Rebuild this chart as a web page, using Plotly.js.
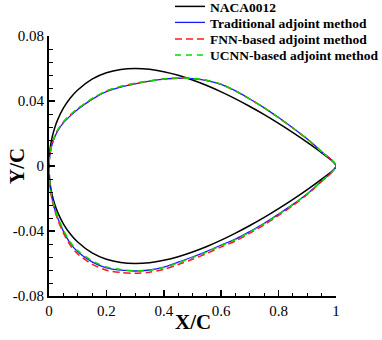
<!DOCTYPE html>
<html>
<head>
<meta charset="utf-8">
<script src="https://cdn.plot.ly/plotly-3.0.1.min.js"></script>
<style>html,body{margin:0;padding:0;background:#fff;}#chart{width:382px;height:340px;}</style>
</head>
<body>
<div id="chart"></div>
<script>
// Chordwise stations X/C
const xc = [0, 0.0025, 0.005, 0.01, 0.02, 0.03, 0.05, 0.075, 0.1, 0.15, 0.2, 0.25, 0.3, 0.35, 0.4, 0.45, 0.5, 0.55, 0.6, 0.65, 0.7, 0.75, 0.8, 0.85, 0.9, 0.95, 1];

const nacaUpper = [0, 0.0087, 0.0122, 0.0170, 0.0236, 0.0284, 0.0356, 0.0420, 0.0468, 0.0535, 0.0574, 0.0594, 0.0600, 0.0595, 0.0580, 0.0558, 0.0529, 0.0495, 0.0456, 0.0413, 0.0366, 0.0316, 0.0262, 0.0205, 0.0145, 0.0081, 0];
const nacaLower = [0, -0.0087, -0.0122, -0.0170, -0.0236, -0.0284, -0.0356, -0.0420, -0.0468, -0.0535, -0.0574, -0.0594, -0.0600, -0.0595, -0.0580, -0.0558, -0.0529, -0.0495, -0.0456, -0.0413, -0.0366, -0.0316, -0.0262, -0.0205, -0.0145, -0.0081, 0];

const tradUpper = [0, 0.0060, 0.0087, 0.0128, 0.0178, 0.0215, 0.0265, 0.0310, 0.0348, 0.0410, 0.0458, 0.0486, 0.0506, 0.0522, 0.0534, 0.0540, 0.0538, 0.0526, 0.0502, 0.0462, 0.0412, 0.0358, 0.0298, 0.0234, 0.0166, 0.0088, 0];
const tradLower = [0, -0.0105, -0.0145, -0.0195, -0.0266, -0.0319, -0.0401, -0.0478, -0.0528, -0.0590, -0.0627, -0.0641, -0.0646, -0.0640, -0.0622, -0.0592, -0.0560, -0.0525, -0.0486, -0.0450, -0.0403, -0.0352, -0.0296, -0.0236, -0.0170, -0.0092, 0];

const fnnUpper = [0, 0.0062, 0.0090, 0.0132, 0.0183, 0.0220, 0.0270, 0.0315, 0.0352, 0.0413, 0.0461, 0.0489, 0.0508, 0.0523, 0.0535, 0.0540, 0.0538, 0.0526, 0.0502, 0.0461, 0.0411, 0.0357, 0.0297, 0.0233, 0.0165, 0.0087, 0];
const fnnLower = [0, -0.0108, -0.0150, -0.0202, -0.0274, -0.0328, -0.0412, -0.0490, -0.0541, -0.0604, -0.0641, -0.0655, -0.0660, -0.0654, -0.0636, -0.0606, -0.0574, -0.0538, -0.0498, -0.0461, -0.0413, -0.0361, -0.0304, -0.0243, -0.0175, -0.0095, 0];

const ucnnUpper = [0, 0.0063, 0.0091, 0.0133, 0.0184, 0.0221, 0.0271, 0.0316, 0.0353, 0.0414, 0.0462, 0.0490, 0.0509, 0.0524, 0.0535, 0.0541, 0.0539, 0.0527, 0.0503, 0.0462, 0.0412, 0.0358, 0.0298, 0.0234, 0.0166, 0.0088, 0];
const ucnnLower = [0, -0.0100, -0.0139, -0.0188, -0.0258, -0.0311, -0.0393, -0.0471, -0.0521, -0.0583, -0.0621, -0.0637, -0.0645, -0.0641, -0.0625, -0.0596, -0.0564, -0.0529, -0.0490, -0.0453, -0.0406, -0.0355, -0.0298, -0.0238, -0.0171, -0.0092, 0];

const seriesNames = ['NACA0012', 'Traditional adjoint method', 'FNN-based adjoint method', 'UCNN-based adjoint method'];

const xTickVals = [0, 0.2, 0.4, 0.6, 0.8, 1];
const xTickText = ['0', '0.2', '0.4', '0.6', '0.8', '1'];
const yTickVals = [-0.08, -0.04, 0, 0.04, 0.08];
const yTickText = ['-0.08', '-0.04', '0', '0.04', '0.08'];
const xTitle = 'X/C';
const yTitle = 'Y/C';

function loop(up, lo) {
  return {
    x: xc.slice().reverse().concat(xc.slice(1)),
    y: up.slice().reverse().concat(lo.slice(1))
  };
}

const serif = 'Liberation Serif, Times New Roman, serif';

const a = loop(nacaUpper, nacaLower);
const b = loop(tradUpper, tradLower);
const c = loop(fnnUpper, fnnLower);
const d = loop(ucnnUpper, ucnnLower);

const traces = [
  {x: a.x, y: a.y, name: seriesNames[0], mode: 'lines', line: {color: '#000000', width: 1.5, shape: 'spline', smoothing: 0.8}, legend: 'legend', legendgroup: 'g1'},
  {x: b.x, y: b.y, name: seriesNames[1], mode: 'lines', line: {color: '#1a1aff', width: 1.3, shape: 'spline', smoothing: 0.8}, legend: 'legend2', legendgroup: 'g2'},
  {x: c.x, y: c.y, name: seriesNames[2], mode: 'lines', line: {color: '#ff1a1a', width: 1.5, dash: '7px,4px', shape: 'spline', smoothing: 0.8}, legend: 'legend', legendgroup: 'g3'},
  {x: d.x, y: d.y, name: seriesNames[3], mode: 'lines', line: {color: '#00dd00', width: 1.5, dash: '6px,5px', shape: 'spline', smoothing: 0.8}, legend: 'legend2', legendgroup: 'g4'}
];

const legendCommon = {
  font: {family: serif, size: 13.5, color: '#000', weight: 'bold'},
  bgcolor: 'rgba(0,0,0,0)',
  borderwidth: 0,
  xanchor: 'left',
  yanchor: 'top',
  traceorder: 'grouped',
  tracegroupgap: 12,
  itemclick: false
};

const legTop = 1.138 + 9 / 260;
const titleFont = {family: serif, size: 21, color: '#000', weight: 'bold'};

const layout = {
  width: 382,
  height: 340,
  margin: {l: 49, r: 46, t: 36, b: 44, autoexpand: false},
  paper_bgcolor: '#ffffff',
  plot_bgcolor: '#ffffff',
  showlegend: true,
  font: {family: serif, color: '#000'},
  xaxis: {
    range: [0, 1],
    tickmode: 'array', tickvals: xTickVals, ticktext: xTickText,
    ticks: 'inside', ticklen: 6, tickwidth: 1.5, tickcolor: '#000',
    minor: {ticks: 'inside', ticklen: 3, tickwidth: 1, tickcolor: '#000', tickmode: 'linear', tick0: 0, dtick: 0.05},
    showline: true, linecolor: '#000', linewidth: 2,
    showgrid: false, zeroline: false, mirror: false,
    tickfont: {family: serif, size: 15, color: '#000'}
  },
  yaxis: {
    range: [-0.08, 0.08],
    tickmode: 'array', tickvals: yTickVals, ticktext: yTickText,
    ticks: 'inside', ticklen: 6, tickwidth: 1.5, tickcolor: '#000',
    minor: {ticks: 'inside', ticklen: 4, tickwidth: 1, tickcolor: '#000', tickmode: 'linear', tick0: 0, dtick: 0.008},
    showline: true, linecolor: '#000', linewidth: 2,
    showgrid: false, zeroline: false, mirror: false,
    tickfont: {family: serif, size: 15, color: '#000'}
  },
  annotations: [
    {text: xTitle, xref: 'paper', yref: 'paper', x: 0.5, y: -0.1, xanchor: 'center', yanchor: 'middle', showarrow: false, font: titleFont},
    {text: yTitle, xref: 'paper', yref: 'paper', x: -0.1115, y: 0.5, xanchor: 'center', yanchor: 'middle', textangle: -90, showarrow: false, font: titleFont}
  ],
  legend: Object.assign({}, legendCommon, {x: 0.4216, y: legTop}),
  legend2: Object.assign({}, legendCommon, {x: 0.4216, y: legTop - 16 / 260})
};

Plotly.newPlot('chart', traces, layout, {staticPlot: true, displayModeBar: false});
</script>
</body>
</html>
